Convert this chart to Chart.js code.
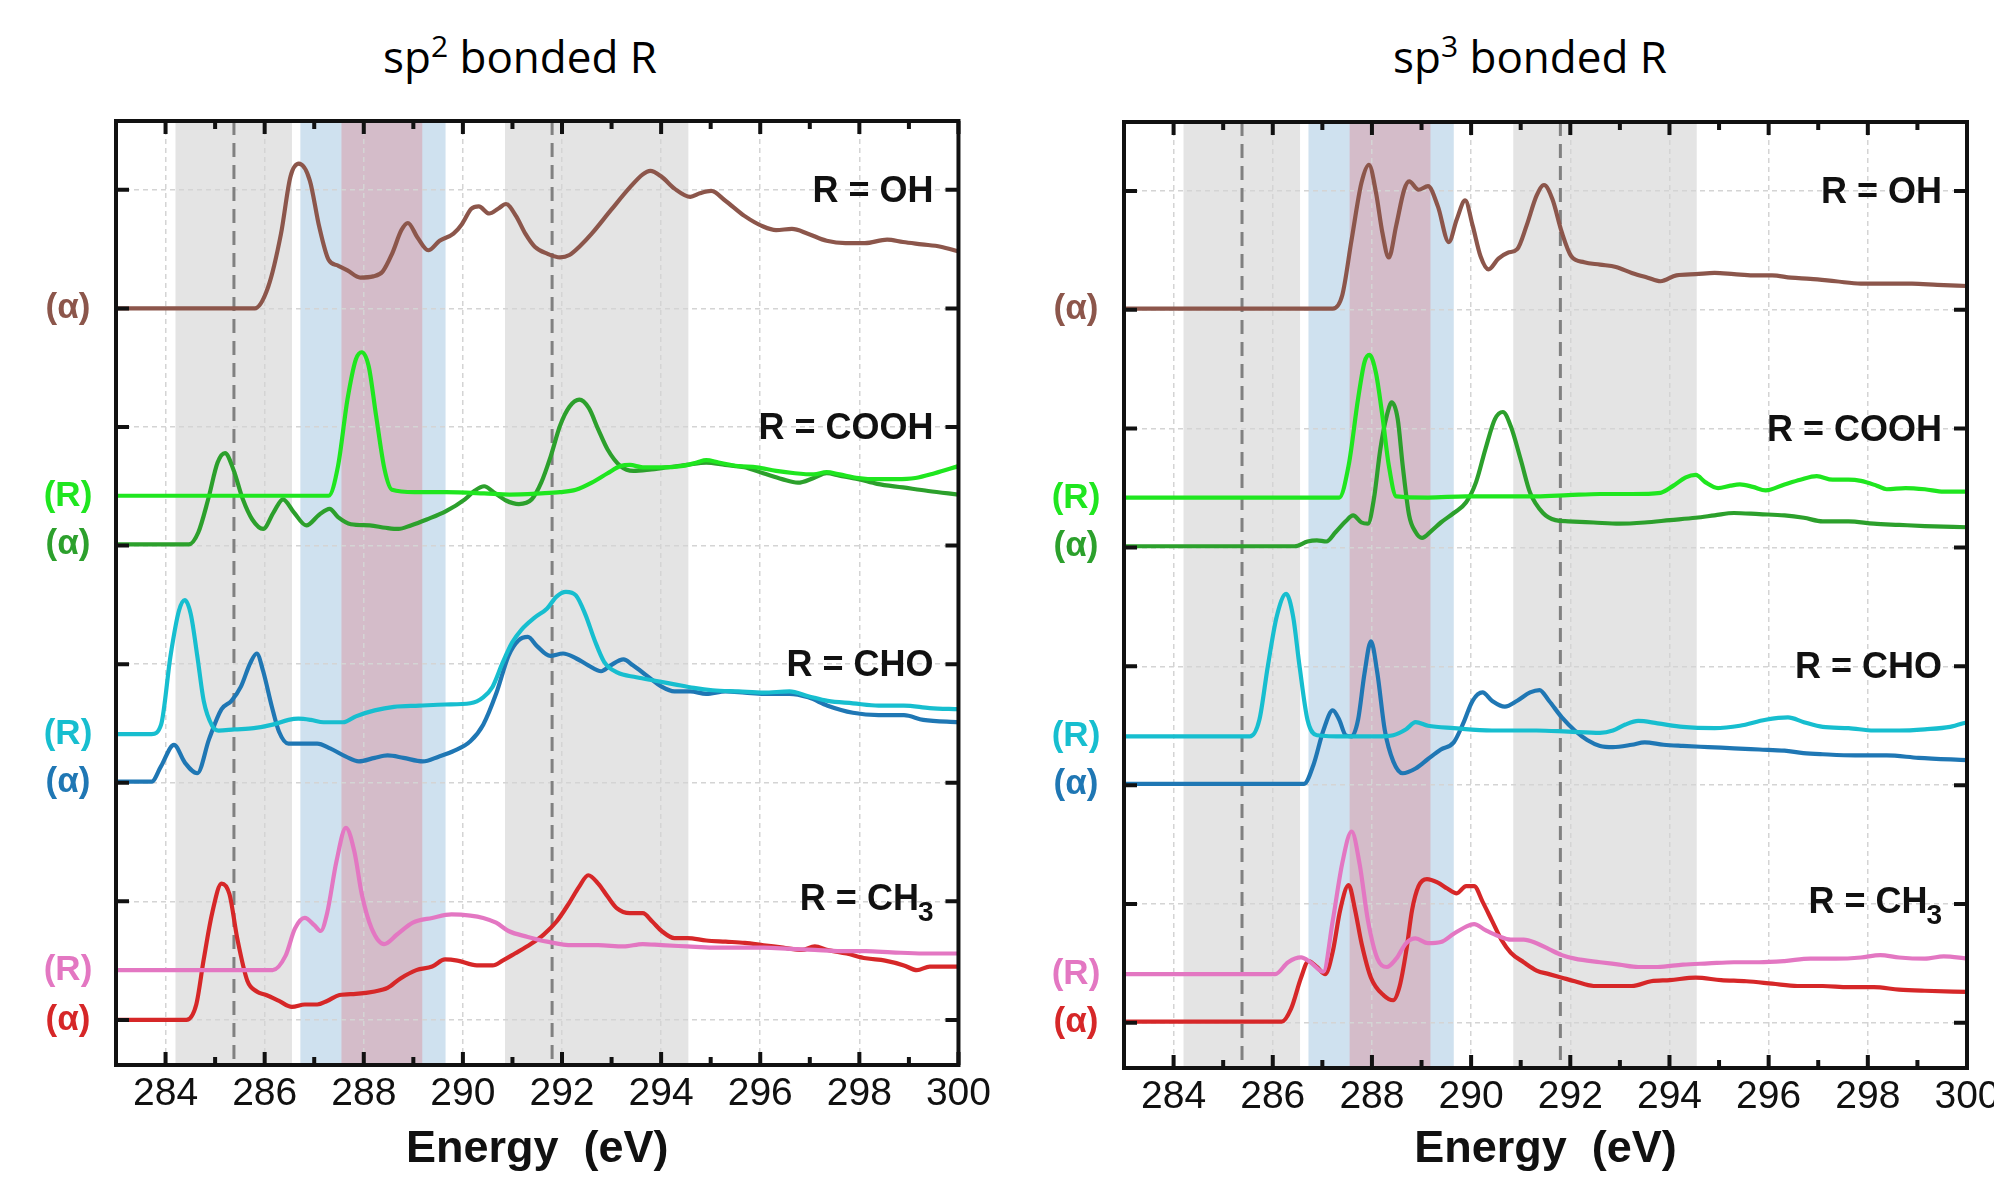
<!DOCTYPE html>
<html>
<head>
<meta charset="utf-8">
<script src="https://cdn.jsdelivr.net/npm/chart.js@4.4.1/dist/chart.umd.min.js"></script>
<style>
  html, body { margin: 0; padding: 0; background: #fff; width: 1994px; height: 1177px; overflow: hidden; }
  .panel { position: absolute; top: 0; }
  .title { position: absolute; top: 34px; font-family: 'Open Sans', sans-serif; font-size: 44px; line-height: 44px;
           white-space: nowrap; transform: translateX(-50%); color: #000; }
  .title sup { font-size: 30px; vertical-align: baseline; position: relative; top: -16px; }
</style>
</head>
<body>
<div class="title" style="left:520px">sp<sup>2</sup> bonded R</div>
<div class="title" style="left:1530px">sp<sup>3</sup> bonded R</div>
<canvas id="sp2" class="panel" width="997" height="1177" style="left:0"></canvas>
<canvas id="sp3" class="panel" width="1060" height="1177" style="left:997px"></canvas>
<script>
// axis ranges and ticks (eV / stacked intensity)
const xMin = 283, xMax = 300;
const yMin = 0.62, yMax = 8.58;
const xMajorTicks = [284, 286, 288, 290, 292, 294, 296, 298, 300];
const xMinorTicks = [285, 287, 289, 291, 293, 295, 297, 299];
const yTicks = [1, 2, 3, 4, 5, 6, 7, 8];

// shaded energy windows and reference lines (eV)
const grayBands = [[284.2, 286.55], [290.85, 294.55]];
const blueBand = [286.72, 289.65];
const mauveBand = [287.55, 289.18];
const refLines = [285.38, 291.8];

// group labels on the right
const groupLabels = ['R = OH', 'R = COOH', 'R = CHO', 'R = CH'];
const groupLevels = [8, 6, 4, 2];

// ---- sp2 bonded R ----
const sp2_OH_a = [[283,7.0],[285.8,7.0],[286.07,7.18],[286.33,7.63],[286.52,8.11],[286.69,8.22],[286.91,8.08],[287.1,7.69],[287.29,7.41],[287.48,7.36],[287.67,7.32],[287.93,7.26],[288.19,7.27],[288.38,7.31],[288.57,7.46],[288.76,7.66],[288.89,7.72],[289.08,7.6],[289.3,7.49],[289.53,7.57],[289.81,7.63],[289.98,7.71],[290.17,7.84],[290.32,7.86],[290.53,7.8],[290.71,7.84],[290.87,7.88],[291.07,7.78],[291.26,7.63],[291.45,7.52],[291.71,7.46],[291.96,7.43],[292.15,7.45],[292.35,7.52],[292.6,7.63],[292.99,7.83],[293.37,8.02],[293.63,8.13],[293.78,8.16],[294.01,8.11],[294.27,8.01],[294.59,7.94],[294.78,7.97],[295.01,7.99],[295.29,7.91],[295.68,7.78],[296.06,7.69],[296.32,7.66],[296.64,7.67],[296.96,7.63],[297.34,7.57],[297.72,7.55],[298.11,7.55],[298.56,7.58],[298.88,7.56],[299.26,7.54],[299.64,7.52],[300,7.48]];
const sp2_COOH_R = [[283,5.42],[287.29,5.42],[287.48,5.67],[287.67,6.23],[287.84,6.57],[287.96,6.63],[288.1,6.51],[288.25,6.09],[288.42,5.64],[288.57,5.47],[289.02,5.45],[289.66,5.45],[290.43,5.44],[290.94,5.43],[291.58,5.44],[291.96,5.45],[292.28,5.47],[292.6,5.53],[292.92,5.61],[293.18,5.67],[293.37,5.68],[293.63,5.66],[294.01,5.66],[294.4,5.67],[294.72,5.7],[294.91,5.72],[295.16,5.7],[295.55,5.67],[295.93,5.66],[296.32,5.63],[296.7,5.61],[297.08,5.6],[297.34,5.62],[297.6,5.6],[297.98,5.57],[298.36,5.56],[298.75,5.56],[299.13,5.57],[299.52,5.61],[300,5.67]];
const sp2_COOH_a = [[283,5.01],[284.47,5.01],[284.66,5.11],[284.86,5.39],[285.05,5.7],[285.2,5.78],[285.37,5.64],[285.56,5.39],[285.75,5.22],[285.97,5.14],[286.18,5.28],[286.37,5.39],[286.59,5.28],[286.84,5.17],[287.1,5.26],[287.31,5.31],[287.48,5.24],[287.74,5.18],[288.12,5.17],[288.44,5.15],[288.7,5.14],[288.95,5.17],[289.27,5.22],[289.66,5.29],[290.04,5.39],[290.23,5.46],[290.43,5.5],[290.62,5.45],[290.87,5.38],[291.13,5.35],[291.39,5.39],[291.58,5.53],[291.77,5.75],[291.96,6.01],[292.15,6.17],[292.35,6.23],[292.54,6.16],[292.73,5.98],[292.92,5.81],[293.18,5.67],[293.44,5.63],[293.76,5.64],[294.14,5.66],[294.52,5.68],[294.91,5.7],[295.29,5.68],[295.68,5.66],[296.06,5.61],[296.44,5.56],[296.76,5.53],[297.08,5.57],[297.34,5.61],[297.6,5.59],[297.98,5.56],[298.36,5.52],[298.88,5.49],[299.39,5.46],[300,5.43]];
const sp2_CHO_R = [[283,3.41],[283.72,3.41],[283.91,3.49],[284.1,4.07],[284.27,4.45],[284.39,4.54],[284.51,4.42],[284.64,4.07],[284.77,3.69],[284.94,3.48],[285.07,3.44],[285.39,3.45],[285.78,3.46],[286.16,3.49],[286.48,3.53],[286.68,3.54],[286.93,3.53],[287.19,3.51],[287.58,3.51],[287.84,3.56],[288.22,3.61],[288.61,3.64],[289.12,3.65],[289.64,3.66],[290.15,3.67],[290.41,3.72],[290.6,3.81],[290.8,4.01],[290.99,4.18],[291.18,4.29],[291.44,4.39],[291.7,4.47],[291.89,4.57],[292.08,4.61],[292.28,4.58],[292.47,4.42],[292.66,4.2],[292.85,4.02],[293.11,3.93],[293.5,3.89],[293.88,3.86],[294.27,3.83],[294.66,3.8],[295.04,3.78],[295.56,3.77],[296.07,3.76],[296.59,3.77],[296.97,3.73],[297.36,3.69],[297.87,3.67],[298.39,3.65],[298.9,3.65],[299.42,3.63],[300,3.62]];
const sp2_CHO_a = [[283,3.01],[283.72,3.01],[283.91,3.14],[284.17,3.32],[284.39,3.17],[284.64,3.08],[284.88,3.37],[285.13,3.62],[285.33,3.69],[285.52,3.81],[285.71,4.01],[285.84,4.09],[285.97,3.94],[286.14,3.65],[286.29,3.43],[286.48,3.33],[286.81,3.33],[287.06,3.33],[287.32,3.29],[287.64,3.22],[287.9,3.18],[288.22,3.21],[288.48,3.23],[288.8,3.21],[289.19,3.18],[289.51,3.22],[289.83,3.27],[290.15,3.35],[290.41,3.49],[290.67,3.75],[290.92,4.07],[291.12,4.2],[291.31,4.23],[291.5,4.15],[291.76,4.07],[292.02,4.09],[292.28,4.05],[292.53,3.99],[292.79,3.94],[292.98,3.99],[293.24,4.04],[293.43,3.99],[293.69,3.91],[294.01,3.81],[294.27,3.77],[294.59,3.77],[294.91,3.75],[295.3,3.77],[295.69,3.76],[296.07,3.75],[296.59,3.75],[296.97,3.72],[297.36,3.65],[297.87,3.59],[298.39,3.57],[298.9,3.57],[299.29,3.53],[300,3.51]];
const sp2_CH3_R = [[283,1.42],[286.16,1.42],[286.42,1.54],[286.61,1.77],[286.81,1.86],[287.0,1.8],[287.13,1.75],[287.26,1.9],[287.45,2.34],[287.64,2.62],[287.81,2.42],[287.96,2.06],[288.16,1.77],[288.41,1.64],[288.67,1.72],[288.99,1.82],[289.38,1.86],[289.77,1.89],[290.15,1.88],[290.41,1.86],[290.67,1.82],[290.92,1.75],[291.31,1.7],[291.7,1.66],[292.21,1.63],[292.73,1.63],[293.24,1.62],[293.63,1.64],[294.01,1.63],[294.53,1.62],[295.04,1.61],[295.56,1.61],[296.07,1.61],[296.59,1.6],[297.1,1.59],[297.62,1.58],[298.13,1.58],[298.65,1.57],[299.29,1.56],[300,1.56]];
const sp2_CH3_a = [[283,1.0],[284.42,1.0],[284.62,1.13],[284.77,1.51],[284.94,1.9],[285.13,2.15],[285.29,2.06],[285.45,1.68],[285.65,1.33],[285.84,1.24],[286.03,1.21],[286.29,1.16],[286.55,1.11],[286.81,1.13],[287.06,1.13],[287.26,1.16],[287.51,1.21],[287.84,1.22],[288.22,1.24],[288.48,1.27],[288.74,1.35],[289.06,1.42],[289.38,1.45],[289.64,1.51],[289.89,1.5],[290.28,1.46],[290.6,1.46],[290.8,1.5],[291.05,1.56],[291.37,1.64],[291.63,1.72],[291.89,1.83],[292.15,1.99],[292.34,2.12],[292.53,2.22],[292.73,2.15],[292.92,2.04],[293.11,1.94],[293.37,1.9],[293.63,1.9],[293.82,1.83],[294.01,1.75],[294.27,1.69],[294.53,1.69],[294.91,1.67],[295.3,1.66],[295.69,1.65],[296.07,1.63],[296.46,1.61],[296.84,1.59],[297.1,1.62],[297.36,1.59],[297.74,1.56],[298.13,1.52],[298.52,1.5],[298.9,1.46],[299.16,1.42],[299.42,1.45],[300,1.45]];

// ---- sp3 bonded R ----
const sp3_OH_a = [[283,7.01],[287.21,7.01],[287.4,7.12],[287.59,7.59],[287.79,8.07],[287.94,8.22],[288.08,7.99],[288.21,7.65],[288.34,7.44],[288.49,7.71],[288.65,8.01],[288.75,8.08],[288.94,8.01],[289.13,8.04],[289.33,7.87],[289.55,7.57],[289.71,7.76],[289.88,7.92],[290.03,7.71],[290.19,7.45],[290.35,7.34],[290.55,7.43],[290.74,7.48],[290.93,7.51],[291.12,7.71],[291.32,7.96],[291.47,8.05],[291.64,7.93],[291.83,7.65],[292.02,7.45],[292.28,7.4],[292.6,7.38],[292.92,7.36],[293.24,7.31],[293.56,7.27],[293.82,7.24],[294.14,7.29],[294.53,7.3],[294.91,7.31],[295.3,7.3],[295.68,7.29],[296.07,7.29],[296.45,7.27],[296.84,7.26],[297.35,7.24],[297.86,7.22],[298.38,7.22],[298.89,7.22],[299.4,7.21],[300,7.2]];
const sp3_COOH_R = [[283,5.42],[287.34,5.42],[287.53,5.69],[287.72,6.25],[287.85,6.56],[287.95,6.62],[288.08,6.47],[288.21,6.11],[288.34,5.69],[288.49,5.43],[289.13,5.42],[289.9,5.43],[290.42,5.43],[290.68,5.43],[291.32,5.43],[291.96,5.44],[292.6,5.45],[293.24,5.45],[293.82,5.46],[294.08,5.52],[294.33,5.59],[294.53,5.61],[294.72,5.55],[294.98,5.5],[295.23,5.52],[295.42,5.53],[295.68,5.51],[295.94,5.48],[296.32,5.53],[296.64,5.57],[296.97,5.6],[297.29,5.57],[297.61,5.57],[297.86,5.56],[298.18,5.52],[298.38,5.49],[298.76,5.5],[299.15,5.49],[299.53,5.47],[300,5.47]];
const sp3_COOH_a = [[283,5.01],[286.44,5.01],[286.7,5.05],[286.89,5.06],[287.08,5.05],[287.27,5.13],[287.47,5.22],[287.62,5.27],[287.79,5.21],[287.92,5.2],[288.04,5.41],[288.17,5.83],[288.3,6.11],[288.4,6.22],[288.52,6.08],[288.62,5.69],[288.75,5.27],[288.88,5.13],[289.01,5.08],[289.2,5.14],[289.39,5.21],[289.65,5.29],[289.9,5.38],[290.1,5.55],[290.29,5.83],[290.48,6.08],[290.64,6.14],[290.8,6.02],[291.0,5.74],[291.19,5.46],[291.45,5.29],[291.7,5.23],[291.96,5.22],[292.47,5.21],[292.99,5.2],[293.5,5.21],[294.01,5.23],[294.53,5.25],[294.91,5.27],[295.3,5.29],[295.81,5.28],[296.32,5.27],[296.71,5.25],[297.09,5.22],[297.61,5.22],[298.12,5.2],[298.63,5.19],[299.15,5.18],[300,5.17]];
const sp3_CHO_R = [[283,3.41],[285.54,3.41],[285.73,3.55],[285.9,4.0],[286.08,4.42],[286.27,4.61],[286.41,4.42],[286.54,4.0],[286.7,3.55],[286.89,3.42],[287.47,3.41],[288.11,3.41],[288.43,3.42],[288.69,3.47],[288.88,3.53],[289.13,3.5],[289.65,3.48],[290.42,3.46],[291.32,3.46],[291.96,3.45],[292.6,3.44],[292.86,3.46],[293.11,3.51],[293.37,3.54],[293.76,3.52],[294.27,3.49],[294.91,3.48],[295.42,3.5],[295.94,3.55],[296.39,3.57],[296.71,3.53],[297.09,3.49],[297.61,3.48],[298.12,3.46],[298.63,3.46],[299.15,3.47],[299.66,3.49],[300,3.53]];
const sp3_CHO_a = [[283,3.01],[286.63,3.01],[286.82,3.17],[287.02,3.46],[287.21,3.63],[287.34,3.55],[287.47,3.42],[287.59,3.41],[287.72,3.55],[287.85,3.94],[287.98,4.21],[288.11,3.94],[288.26,3.46],[288.43,3.2],[288.62,3.1],[288.88,3.14],[289.13,3.22],[289.39,3.3],[289.65,3.36],[289.84,3.52],[290.03,3.71],[290.23,3.78],[290.42,3.71],[290.68,3.66],[290.93,3.71],[291.19,3.78],[291.38,3.8],[291.57,3.71],[291.83,3.57],[292.09,3.46],[292.34,3.38],[292.6,3.33],[292.86,3.32],[293.24,3.34],[293.5,3.36],[293.88,3.34],[294.27,3.33],[294.78,3.32],[295.3,3.31],[295.81,3.3],[296.32,3.29],[296.7,3.27],[297.09,3.26],[297.74,3.25],[298.38,3.25],[299.02,3.23],[300,3.21]];
const sp3_CH3_R = [[283,1.41],[286.05,1.41],[286.31,1.51],[286.57,1.55],[286.76,1.51],[287.02,1.43],[287.21,1.86],[287.4,2.34],[287.59,2.61],[287.75,2.34],[287.92,1.86],[288.11,1.54],[288.3,1.47],[288.49,1.54],[288.69,1.67],[288.88,1.71],[289.13,1.67],[289.39,1.68],[289.65,1.75],[289.9,1.81],[290.06,1.83],[290.29,1.78],[290.55,1.73],[290.8,1.7],[291.06,1.7],[291.32,1.67],[291.57,1.62],[291.83,1.57],[292.09,1.54],[292.6,1.51],[292.99,1.49],[293.37,1.47],[293.76,1.47],[294.27,1.49],[294.78,1.5],[295.3,1.51],[295.81,1.51],[296.32,1.52],[296.84,1.54],[297.35,1.54],[297.86,1.55],[298.25,1.57],[298.63,1.55],[299.15,1.54],[299.53,1.56],[300,1.54]];
const sp3_CH3_a = [[283,1.01],[286.18,1.01],[286.37,1.12],[286.57,1.38],[286.72,1.52],[286.89,1.47],[287.06,1.41],[287.21,1.6],[287.36,1.95],[287.53,2.16],[287.66,1.95],[287.79,1.67],[287.98,1.38],[288.24,1.23],[288.43,1.19],[288.56,1.31],[288.69,1.6],[288.81,1.95],[288.94,2.15],[289.11,2.21],[289.33,2.18],[289.52,2.13],[289.71,2.09],[289.9,2.15],[290.06,2.15],[290.23,2.02],[290.42,1.86],[290.61,1.7],[290.8,1.59],[291.06,1.51],[291.32,1.44],[291.57,1.41],[291.83,1.38],[292.09,1.35],[292.47,1.31],[292.86,1.31],[293.24,1.31],[293.63,1.35],[294.01,1.36],[294.53,1.38],[295.04,1.36],[295.55,1.35],[296.07,1.33],[296.58,1.31],[297.09,1.31],[297.61,1.3],[298.12,1.3],[298.63,1.28],[299.15,1.27],[300,1.26]];

const colors = {
  brown: '#8c564b', lime: '#1fe61f', green: '#2ca02c', cyan: '#17becf',
  blue: '#1f77b4', pink: '#e377c2', red: '#d62728'
};

const labelFont = 'bold 36px "Liberation Sans", Arial, sans-serif';
const subFont = 'bold 28px "Liberation Sans", Arial, sans-serif';

const decor = {
  id: 'decor',
  beforeDraw(chart) {
    const { ctx, chartArea: a, scales: { x } } = chart;
    const band = (b, c) => {
      const x0 = x.getPixelForValue(b[0]), x1 = x.getPixelForValue(b[1]);
      ctx.fillStyle = c;
      ctx.fillRect(x0, a.top, x1 - x0, a.bottom - a.top);
    };
    ctx.save();
    grayBands.forEach(b => band(b, '#e4e4e4'));
    band(blueBand, '#cfe1ef');
    band(mauveBand, '#d4bcc9');
    ctx.restore();
  },
  beforeDatasetsDraw(chart) {
    const { ctx, chartArea: a, scales: { x } } = chart;
    ctx.save();
    ctx.strokeStyle = '#808080';
    ctx.lineWidth = 3;
    ctx.setLineDash([14, 8]);
    refLines.forEach(v => {
      const px = x.getPixelForValue(v);
      ctx.beginPath();
      ctx.moveTo(px, a.top);
      ctx.lineTo(px, a.bottom);
      ctx.stroke();
    });
    ctx.restore();
  },
  afterDatasetsDraw(chart) {
    const { ctx, chartArea: a, scales: { x, y } } = chart;
    ctx.save();
    ctx.strokeStyle = '#111';
    ctx.lineWidth = 4;
    ctx.beginPath();
    const tick = (px, len, vertical) => {
      if (vertical) {
        ctx.moveTo(px, a.top); ctx.lineTo(px, a.top + len);
        ctx.moveTo(px, a.bottom); ctx.lineTo(px, a.bottom - len);
      } else {
        ctx.moveTo(a.left, px); ctx.lineTo(a.left + len, px);
        ctx.moveTo(a.right, px); ctx.lineTo(a.right - len, px);
      }
    };
    xMajorTicks.forEach(v => tick(x.getPixelForValue(v), 13, true));
    xMinorTicks.forEach(v => tick(x.getPixelForValue(v), 8, true));
    yTicks.forEach(v => tick(y.getPixelForValue(v), 13, false));
    ctx.stroke();
    ctx.strokeRect(a.left, a.top, a.right - a.left, a.bottom - a.top);

    // group labels on the right
    ctx.fillStyle = '#111';
    ctx.textBaseline = 'alphabetic';
    ctx.textAlign = 'right';
    groupLabels.forEach((t, i) => {
      const py = y.getPixelForValue(groupLevels[i]);
      const xr = a.right - 25;
      if (i === 3) {
        ctx.font = subFont;
        const w3 = ctx.measureText('3').width;
        ctx.fillText('3', xr, py + 20);
        ctx.font = labelFont;
        ctx.fillText(t, xr - w3 + 1, py + 9);
      } else {
        ctx.font = labelFont;
        ctx.fillText(t, xr, py + 12);
      }
    });

    // series tags on the left
    ctx.font = 'bold 35px "Liberation Sans", Arial, sans-serif';
    ctx.textAlign = 'center';
    chart.data.datasets.forEach(ds => {
      ctx.fillStyle = ds.borderColor;
      ctx.fillText(ds.tag, a.left - 48, y.getPixelForValue(ds.data[0].y) + 10);
    });
    ctx.restore();
  }
};

function toXY(arr) { return arr.map(p => ({ x: p[0], y: p[1] })); }

function makePanel(id, series, area) {
  const canvas = document.getElementById(id);
  const W = canvas.width, H = canvas.height;
  return new Chart(canvas, {
    type: 'line',
    data: {
      datasets: series.map(s => ({
        tag: s.tag, data: toXY(s.data), borderColor: s.color,
        borderWidth: 4.2, pointRadius: 0, fill: false,
        cubicInterpolationMode: 'monotone'
      }))
    },
    options: {
      responsive: false, animation: false, devicePixelRatio: 1,
      layout: { padding: { left: 0, top: area.top, right: W - area.right, bottom: 0 } },
      plugins: { legend: { display: false }, tooltip: { enabled: false } },
      scales: {
        x: {
          type: 'linear', min: xMin, max: xMax,
          afterBuildTicks: s => { s.ticks = xMajorTicks.map(v => ({ value: v })); },
          afterFit: s => { s.height = H - area.bottom; },
          grid: { color: '#d4d4d4', lineWidth: 1.5, drawTicks: false },
          border: { display: false, dash: [5, 4] },
          ticks: { color: '#111', padding: 6, maxRotation: 0, autoSkip: false,
                   font: { family: 'Liberation Sans', size: 39 } },
          title: { display: true, text: 'Energy  (eV)', color: '#111', padding: 0,
                   font: { family: 'Liberation Sans', size: 45, weight: 'bold' } }
        },
        y: {
          type: 'linear', min: yMin, max: yMax,
          afterBuildTicks: s => { s.ticks = yTicks.map(v => ({ value: v })); },
          afterFit: s => { s.width = area.left; },
          grid: { color: '#d4d4d4', lineWidth: 1.5, drawTicks: false },
          border: { display: false, dash: [5, 4] },
          ticks: { display: false }
        }
      }
    },
    plugins: [decor]
  });
}

makePanel('sp2', [
  { tag: '(α)', data: sp2_OH_a, color: colors.brown },
  { tag: '(R)', data: sp2_COOH_R, color: colors.lime },
  { tag: '(α)', data: sp2_COOH_a, color: colors.green },
  { tag: '(R)', data: sp2_CHO_R, color: colors.cyan },
  { tag: '(α)', data: sp2_CHO_a, color: colors.blue },
  { tag: '(R)', data: sp2_CH3_R, color: colors.pink },
  { tag: '(α)', data: sp2_CH3_a, color: colors.red }
], { left: 116, top: 121, right: 959, bottom: 1065 });

makePanel('sp3', [
  { tag: '(α)', data: sp3_OH_a, color: colors.brown },
  { tag: '(R)', data: sp3_COOH_R, color: colors.lime },
  { tag: '(α)', data: sp3_COOH_a, color: colors.green },
  { tag: '(R)', data: sp3_CHO_R, color: colors.cyan },
  { tag: '(α)', data: sp3_CHO_a, color: colors.blue },
  { tag: '(R)', data: sp3_CH3_R, color: colors.pink },
  { tag: '(α)', data: sp3_CH3_a, color: colors.red }
], { left: 127, top: 122, right: 970, bottom: 1068 });
</script>
</body>
</html>
